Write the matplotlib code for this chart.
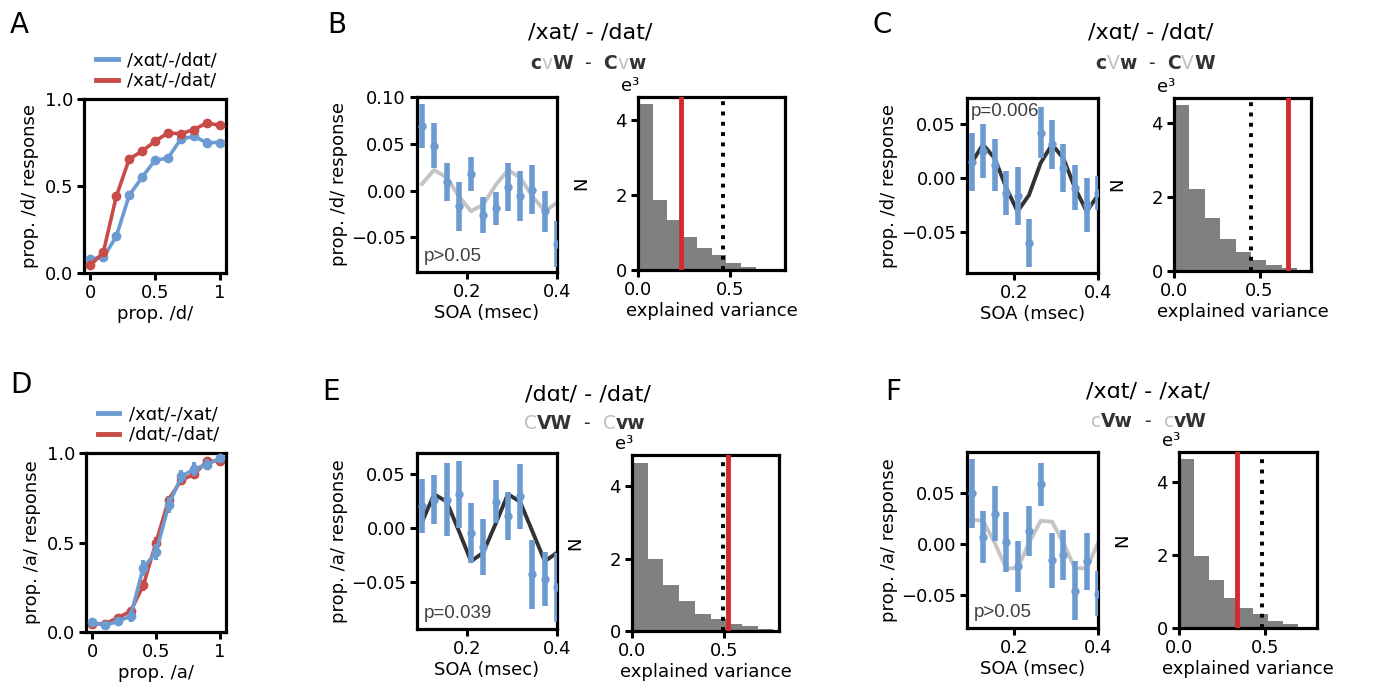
import numpy as np
import matplotlib
matplotlib.use("Agg")
import matplotlib.pyplot as plt

W, H = 1376, 694

BLUE = "#6b9bd1"
RED_LINE = "#c84b47"
RED_V = "#d42a2f"
GRAY_HIST = "#808080"
DARK = "#333333"
LIGHT = "#c4c4c4"

# ---------------- data ----------------
prop_x = [0, 0.1, 0.2, 0.3, 0.4, 0.5, 0.6, 0.7, 0.8, 0.9, 1.0]

A_blue = [0.082, 0.09, 0.21, 0.446, 0.55, 0.648, 0.66, 0.77, 0.785, 0.75, 0.75]
A_blue_err = [0.015, 0.012, 0.02, 0.025, 0.025, 0.02, 0.02, 0.02, 0.02, 0.025, 0.02]
A_red = [0.044, 0.12, 0.44, 0.655, 0.70, 0.757, 0.805, 0.80, 0.824, 0.862, 0.849]
A_red_err = [0.012, 0.015, 0.025, 0.025, 0.02, 0.02, 0.02, 0.015, 0.015, 0.015, 0.02]

D_blue = [0.054, 0.037, 0.06, 0.088, 0.36, 0.445, 0.71, 0.87, 0.91, 0.935, 0.97]
D_blue_err = [0.02, 0.012, 0.02, 0.03, 0.045, 0.045, 0.045, 0.035, 0.04, 0.03, 0.02]
D_red = [0.047, 0.045, 0.08, 0.115, 0.26, 0.50, 0.74, 0.85, 0.88, 0.955, 0.955]
D_red_err = [0.012, 0.012, 0.015, 0.02, 0.03, 0.03, 0.02, 0.02, 0.02, 0.015, 0.015]

soa = [0.1, 0.127, 0.155, 0.182, 0.209, 0.236, 0.264, 0.291, 0.318, 0.345, 0.373, 0.4]

B_y = [0.069, 0.048, 0.009, -0.017, 0.018, -0.026, -0.019, 0.004, -0.006, 0.001, -0.022, -0.057]
B_err = [0.024, 0.024, 0.020, 0.026, 0.018, 0.019, 0.018, 0.026, 0.027, 0.026, 0.022, 0.025]
B_fit = [0.007, 0.022, 0.014, -0.006, -0.022, -0.015, 0.006, 0.022, 0.014, -0.006, -0.022, -0.013]

C_y = [0.015, 0.025, 0.012, -0.014, -0.017, -0.060, 0.042, 0.031, 0.009, -0.009, -0.025, -0.014]
C_err = [0.027, 0.025, 0.024, 0.020, 0.027, 0.022, 0.024, 0.023, 0.022, 0.021, 0.025, 0.016]
C_fit = [0.014, 0.031, 0.018, -0.009, -0.031, -0.016, 0.014, 0.031, 0.018, -0.009, -0.031, -0.016]

E_y = [0.020, 0.026, 0.026, 0.031, -0.005, -0.018, 0.024, 0.011, 0.029, -0.043, -0.047, -0.055]
E_err = [0.025, 0.023, 0.034, 0.031, 0.028, 0.026, 0.020, 0.022, 0.030, 0.032, 0.025, 0.032]
E_fit = [0.005, 0.031, 0.024, -0.003, -0.031, -0.023, 0.004, 0.031, 0.024, -0.003, -0.031, -0.023]

F_y = [0.050, 0.007, 0.030, 0.002, -0.022, 0.013, 0.059, -0.016, -0.011, -0.046, -0.017, -0.049]
F_err = [0.034, 0.026, 0.027, 0.030, 0.025, 0.025, 0.021, 0.027, 0.025, 0.029, 0.028, 0.022]
F_fit = [0.024, 0.023, 0.001, -0.024, -0.024, 0.001, 0.023, 0.022, 0.001, -0.024, -0.024, 0.001]

# histograms of explained variance (counts in thousands)
B_hist = [4.44, 1.87, 1.34, 0.87, 0.58, 0.40, 0.18, 0.07]
C_hist = [4.47, 2.20, 1.43, 0.87, 0.50, 0.29, 0.15, 0.07]
E_hist = [4.65, 1.98, 1.26, 0.83, 0.48, 0.32, 0.20, 0.13, 0.06]
F_hist = [4.62, 1.96, 1.31, 0.83, 0.56, 0.37, 0.19, 0.10, 0.03]
bin_w = {"B": 0.08, "C": 0.09, "E": 0.0855, "F": 0.086}
observed = {"B": 0.234, "C": 0.665, "E": 0.522, "F": 0.339}
threshold = {"B": 0.464, "C": 0.45, "E": 0.495, "F": 0.48}

plt.rcParams["font.family"] = ["DejaVu Sans"]
plt.rcParams["font.size"] = 13

fig = plt.figure(figsize=(W / 100, H / 100), dpi=100)


def px_axes(x0, y0, x1, y1):
    return fig.add_axes([x0 / W, 1 - y1 / H, (x1 - x0) / W, (y1 - y0) / H])


def style(ax):
    for s in ax.spines.values():
        s.set_linewidth(2.3)
    ax.tick_params(direction="out", length=5, width=2.2, labelsize=13, pad=3)


def psycho(ax, blue, berr, red, rerr, red_first, xlabel, ylabel, labels):
    z_red = 2 if red_first else 4
    hb = ax.errorbar(prop_x, blue, yerr=berr, color=BLUE, lw=2.6, elinewidth=3,
                     marker="o", ms=6, capsize=0, zorder=3, clip_on=False)
    hr = ax.errorbar(prop_x, red, yerr=rerr, color=RED_LINE, lw=2.6, elinewidth=3,
                     marker="o", ms=6, capsize=0, zorder=z_red, clip_on=False)
    ax.set_xlim(-0.05, 1.05)
    ax.set_ylim(0, 1.0)
    ax.set_xticks([0, 0.5, 1])
    ax.set_xticklabels(["0", "0.5", "1"])
    ax.set_yticks([0, 0.5, 1.0])
    ax.set_xlabel(xlabel, fontsize=13, labelpad=2)
    ax.set_ylabel(ylabel, fontsize=13, labelpad=4)
    leg = ax.legend([hb.lines[0], hr.lines[0]], labels, loc="lower left",
                    bbox_to_anchor=(0.02, 1.0), frameon=False, fontsize=13,
                    handlelength=1.2, handletextpad=0.5, labelspacing=0.15,
                    borderaxespad=0.1)
    for h in leg.legend_handles:
        h.set_linewidth(3.5)
        h.set_marker("")
    style(ax)


def soa_panel(ax, y, err, fit, fit_color, ylim, yticks, ylabel, ptext, ptop):
    ax.plot(soa, fit, color=fit_color, lw=2.8, zorder=2)
    ax.errorbar(soa, y, yerr=err, fmt="o", color=BLUE, ms=5, elinewidth=4,
                capsize=0, zorder=3)
    ax.set_xlim(0.089, 0.4)
    ax.set_ylim(*ylim)
    ax.set_xticks([0.2, 0.4])
    ax.set_yticks(yticks)
    ax.set_xlabel("SOA (msec)", fontsize=13, labelpad=2)
    ax.set_ylabel(ylabel, fontsize=13, labelpad=2)
    pfont = dict(fontsize=13.5, color="#404040", family=["Liberation Sans", "DejaVu Sans"])
    if ptop:
        ax.text(0.03, 0.97, ptext, transform=ax.transAxes, va="top", ha="left", **pfont)
    else:
        ax.text(0.05, 0.04, ptext, transform=ax.transAxes, va="bottom", ha="left", **pfont)
    style(ax)


def hist_panel(ax, heights, key, ytop):
    w = bin_w[key]
    edges = np.arange(len(heights)) * w
    ax.bar(edges, heights, width=w, align="edge", color=GRAY_HIST, lw=0, zorder=1)
    ax.axvline(observed[key], color=RED_V, lw=3.5, zorder=3)
    ax.axvline(threshold[key], ymax=0.98, color="black", lw=2.8, ls=":", zorder=4)
    ax.set_xlim(0, 0.8)
    ax.set_ylim(0, ytop)
    ax.set_xticks([0, 0.5])
    ax.set_xticklabels(["0.0", "0.5"])
    ax.set_yticks([0, 2, 4])
    ax.set_xlabel("explained variance", fontsize=13, labelpad=2)
    ax.set_ylabel("N", fontsize=13, labelpad=18)
    ax.text(0.01, 1.01, "e\u00b3", transform=ax.transAxes, ha="right", va="bottom",
            fontsize=13)
    style(ax)


# ---------------- panels ----------------
axA = px_axes(84, 99, 226, 273)
psycho(axA, A_blue, A_blue_err, A_red, A_red_err, False, "prop. /d/",
       "prop. /d/ response", ["/x\u0251t/-/d\u0251t/", "/xat/-/dat/"])

axD = px_axes(86, 453, 226, 632)
psycho(axD, D_blue, D_blue_err, D_red, D_red_err, True, "prop. /a/",
       "prop. /a/ response", ["/x\u0251t/-/xat/", "/d\u0251t/-/dat/"])

axB = px_axes(417, 97, 557, 272)
soa_panel(axB, B_y, B_err, B_fit, LIGHT, (-0.087, 0.10), [-0.05, 0, 0.05, 0.10],
          "prop. /d/ response", "p>0.05", False)
axBh = px_axes(638, 97, 785, 270)
hist_panel(axBh, B_hist, "B", 4.62)

axC = px_axes(967, 98, 1098, 273)
soa_panel(axC, C_y, C_err, C_fit, DARK, (-0.088, 0.074), [-0.05, 0, 0.05],
          "prop. /d/ response", "p=0.006", True)
axCh = px_axes(1174, 98, 1311, 271)
hist_panel(axCh, C_hist, "C", 4.66)

axE = px_axes(417, 453, 557, 629)
soa_panel(axE, E_y, E_err, E_fit, DARK, (-0.0935, 0.069), [-0.05, 0, 0.05],
          "prop. /a/ response", "p=0.039", False)
axEh = px_axes(632, 455, 779, 631)
hist_panel(axEh, E_hist, "E", 4.86)

axF = px_axes(967, 452, 1098, 628)
soa_panel(axF, F_y, F_err, F_fit, LIGHT, (-0.083, 0.091), [-0.05, 0, 0.05],
          "prop. /a/ response", "p>0.05", False)
axFh = px_axes(1179, 452, 1317, 628)
hist_panel(axFh, F_hist, "F", 4.82)

# ---------------- titles and letters ----------------
for letter, x, y in [("A", 10, 33), ("B", 327, 33), ("C", 873, 33),
                     ("D", 10, 393), ("E", 322, 400), ("F", 885, 400)]:
    fig.text(x / W, 1 - y / H, letter, fontsize=20, va="baseline", ha="left")

titles = [("/xat/ - /dat/", 590, 39), ("/x\u0251t/ - /d\u0251t/", 1151, 39),
          ("/d\u0251t/ - /dat/", 588, 401), ("/x\u0251t/ - /xat/", 1148, 398)]
for s, x, y in titles:
    fig.text(x / W, 1 - y / H, s, fontsize=16, ha="center", va="baseline")

D_ = ("#333333", "bold")
L_ = ("#c0c0c0", "normal")
M_ = ("#333333", "normal")
subtitles = [
    (588, 69, [("c", D_), ("v", L_), ("W", D_), ("  -  ", M_), ("C", D_), ("v", L_), ("w", D_)]),
    (1155, 69, [("c", D_), ("V", L_), ("w", D_), ("  -  ", M_), ("C", D_), ("V", L_), ("W", D_)]),
    (585, 429, [("C", L_), ("VW", D_), ("  -  ", M_), ("C", L_), ("vw", D_)]),
    (1149, 427, [("c", L_), ("Vw", D_), ("  -  ", M_), ("c", L_), ("vW", D_)]),
]
renderer = fig.canvas.get_renderer()
for xc, yb, pieces in subtitles:
    objs = []
    widths = []
    for s, (c, wt) in pieces:
        t = fig.text(0, 1 - yb / H, s, color=c, fontweight=wt, fontsize=13.5,
                     ha="left", va="baseline")
        widths.append(t.get_window_extent(renderer).width)
        objs.append(t)
    x = xc - sum(widths) / 2
    for t, wd in zip(objs, widths):
        t.set_x(x / W)
        x += wd

fig.savefig("out.png", dpi=100)
